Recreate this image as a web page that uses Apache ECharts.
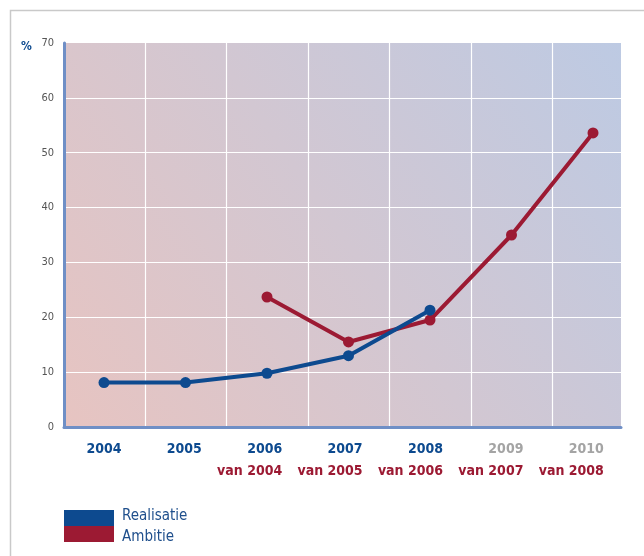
<!DOCTYPE html>
<html><head><meta charset="utf-8">
<script src="https://cdn.jsdelivr.net/npm/echarts@6/dist/echarts.min.js"></script>
<style>html,body{margin:0;padding:0;background:#fff}#c{width:644px;height:556px}</style>
</head><body><div id="c"></div>
<script>
const years = ['2004','2005','2006','2007','2008','2009','2010'];
const subLabels = ['', '', 'van 2004', 'van 2005', 'van 2006', 'van 2007', 'van 2008'];
const futureYears = ['2009','2010'];
const realisatie = [8.1, 8.1, 9.8, 13.0, 21.3, null, null];
const ambitie = [null, null, 23.7, 15.5, 19.5, 35.0, 53.6];
const yTicks = {min: 0, max: 70, interval: 10};
const seriesNames = ['Realisatie', 'Ambitie'];

const BLUE = '#0d4a8f', RED = '#9c1a33', AXIS = '#6f8fc6';
const FONT = '"DejaVu Sans Condensed", "Liberation Sans", sans-serif';
const chart = echarts.init(document.getElementById('c'));
chart.setOption({
  animation: false,
  grid: [
    {left: 64, top: 43, width: 557, height: 384, show: true, borderWidth: 0,
     backgroundColor: new echarts.graphic.LinearGradient(0, 1, 1, 0, [
       {offset: 0, color: '#e7c4c1'}, {offset: 1, color: '#bdcae3'}])},
    {left: 63.25, top: 43, width: 570.5, height: 384},
    {left: 81.25, top: 43, width: 570.5, height: 384}
  ],
  xAxis: [
    {gridIndex: 0, type: 'category', data: years, axisTick: {show: false}, axisLabel: {show: false},
     axisLine: {show: true, lineStyle: {color: AXIS, width: 3}}, splitLine: {show: false}},
    {gridIndex: 1, type: 'category', data: years, boundaryGap: true, axisTick: {show: false},
     axisLabel: {show: false}, axisLine: {show: false},
     splitLine: {show: true, showMinLine: false, showMaxLine: false, lineStyle: {color: '#ffffff', width: 1.2}}},
    {gridIndex: 2, type: 'category', data: years, boundaryGap: true, axisTick: {show: false},
     axisLine: {show: false}, splitLine: {show: false},
     axisLabel: {show: true, interval: 0, margin: 11, align: 'right',
       formatter: function (v, i) {
         const top = futureYears.indexOf(v) >= 0 ? '{g|' + v + '}' : '{y|' + v + '}';
         return subLabels[i] ? top + '\n{v|' + subLabels[i] + '}' : top;
       },
       rich: {
         y: {color: BLUE, fontFamily: FONT, fontWeight: 'bold', fontSize: 14, lineHeight: 22, align: 'right'},
         g: {color: '#a4a4a4', fontFamily: FONT, fontWeight: 'bold', fontSize: 14, lineHeight: 22, align: 'right'},
         v: {color: RED, fontFamily: FONT, fontWeight: 'bold', fontSize: 14, lineHeight: 22, align: 'right'}
       }}}
  ],
  yAxis: [
    {gridIndex: 0, type: 'value', min: yTicks.min, max: yTicks.max, interval: yTicks.interval,
     axisLine: {show: true, lineStyle: {color: AXIS, width: 3}}, axisTick: {show: false},
     axisLabel: {color: '#555', fontFamily: FONT, fontSize: 11, margin: 10},
     splitLine: {show: true, showMinLine: false, showMaxLine: false, lineStyle: {color: '#ffffff', width: 1.2}}},
    {gridIndex: 1, type: 'value', min: yTicks.min, max: yTicks.max, interval: yTicks.interval, show: false},
    {gridIndex: 2, type: 'value', min: yTicks.min, max: yTicks.max, interval: yTicks.interval, show: false}
  ],
  series: [
    {name: seriesNames[1], type: 'line', xAxisIndex: 1, yAxisIndex: 1, data: ambitie,
     symbol: 'circle', symbolSize: 11, lineStyle: {color: RED, width: 4}, itemStyle: {color: RED}, z: 3},
    {name: seriesNames[0], type: 'line', xAxisIndex: 1, yAxisIndex: 1, data: realisatie,
     symbol: 'circle', symbolSize: 11, lineStyle: {color: BLUE, width: 4}, itemStyle: {color: BLUE}, z: 4}
  ],
  graphic: [
    {type: 'rect', shape: {x: 10.5, y: 10.5, width: 700, height: 600}, style: {fill: 'none', stroke: '#c9c9c9', lineWidth: 1.5}, silent: true},
    {type: 'text', x: 21, y: 41, style: {text: '%', fill: BLUE, font: 'bold 12px ' + FONT}},
    {type: 'rect', shape: {x: 64, y: 510, width: 50, height: 16}, style: {fill: BLUE}},
    {type: 'rect', shape: {x: 64, y: 526, width: 50, height: 16}, style: {fill: RED}},
    {type: 'text', x: 122, y: 516, style: {text: seriesNames[0], fill: '#1f4f8c', font: '15px ' + FONT, textVerticalAlign: 'middle'}},
    {type: 'text', x: 122, y: 537, style: {text: seriesNames[1], fill: '#1f4f8c', font: '15px ' + FONT, textVerticalAlign: 'middle'}}
  ]
});
</script></body></html>
